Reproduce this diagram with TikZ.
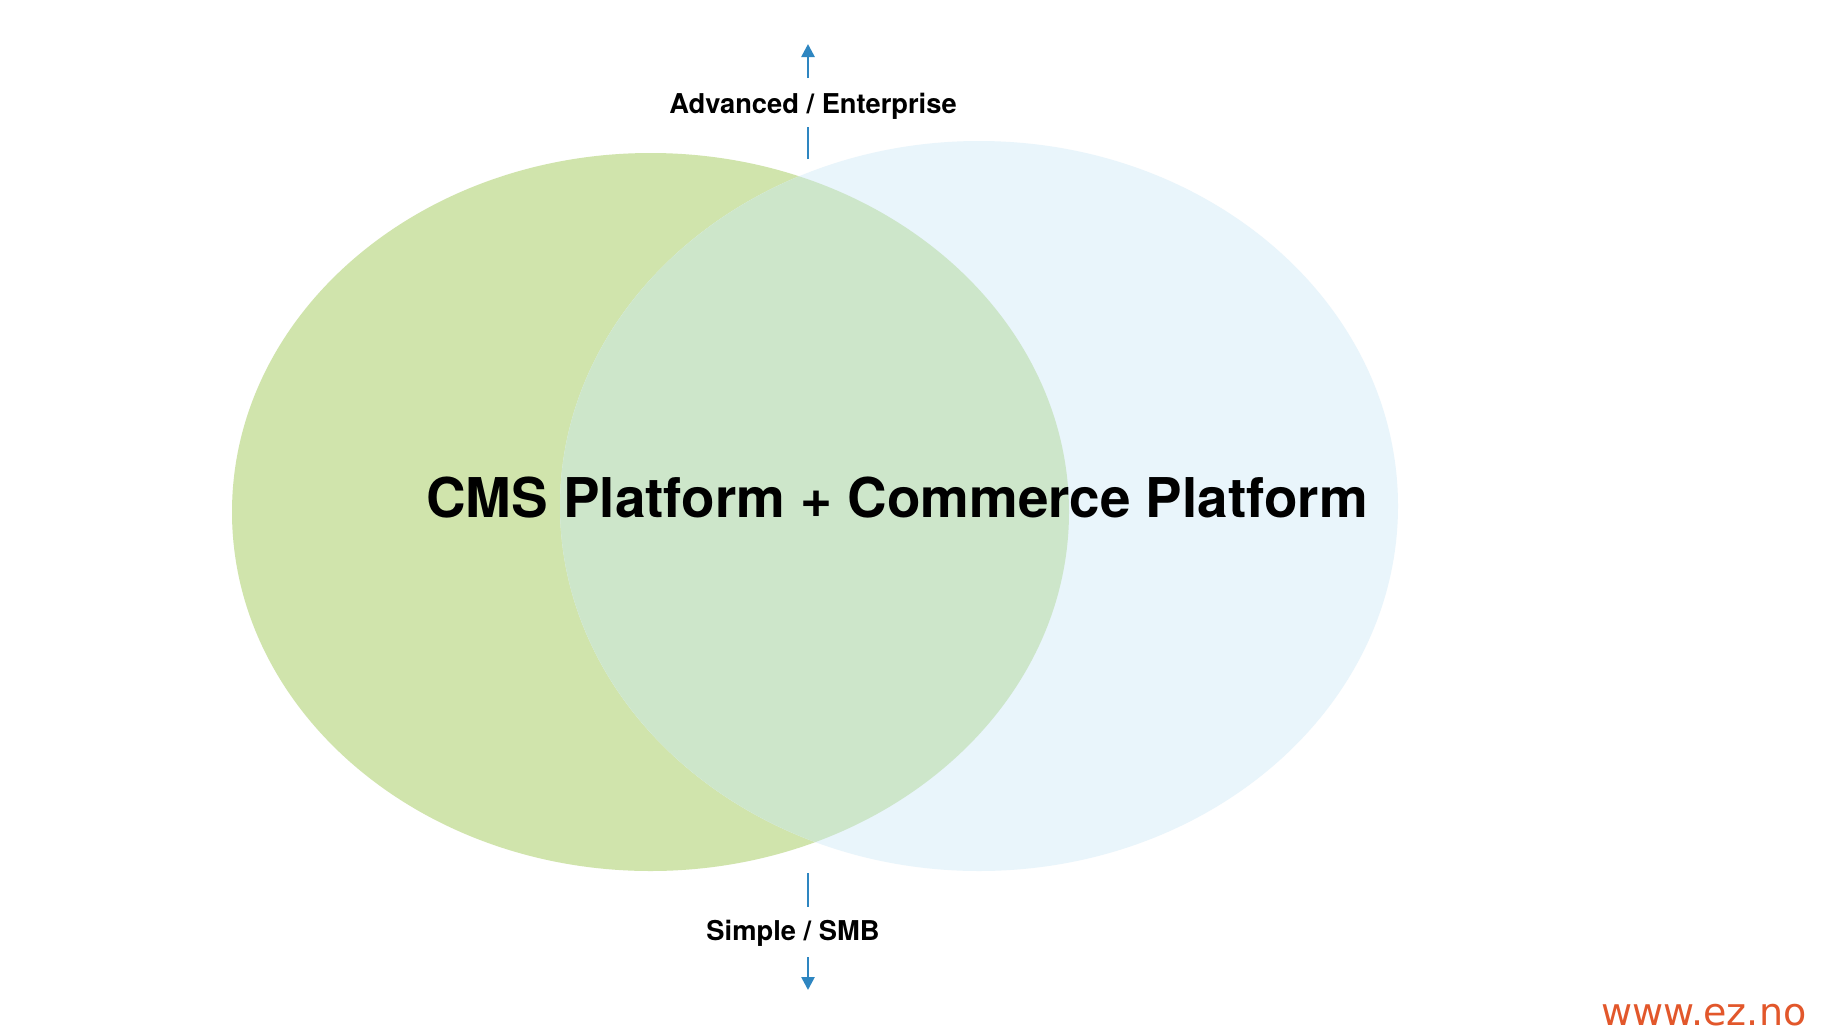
\documentclass[tikz,border=0pt]{standalone}
\usepackage{fontspec}
\setmainfont{TeX Gyre Heros}
\newfontfamily\wwwfont{DejaVu Sans}
\usetikzlibrary{arrows.meta}
\definecolor{cmsgreen}{HTML}{D0E4AC}
\definecolor{comblue}{HTML}{E9F5FB}
\definecolor{overlapc}{HTML}{CDE6CA}
\definecolor{axisblue}{HTML}{2E86C1}
\definecolor{ezorange}{HTML}{E2572B}
\begin{document}
\begin{tikzpicture}[x=1pt,y=-1pt,
  axisline/.style={draw=axisblue, line width=2.6pt},
  axisarrow/.style={axisline, -{Triangle[width=13pt,length=13pt]}},
  sidelabel/.style={font=\bfseries\fontsize{27.3}{27.3}\selectfont, inner sep=0pt, anchor=base},
  titlelabel/.style={font=\bfseries\fontsize{54.8}{54.8}\selectfont, inner sep=0pt, anchor=base}]
\useasboundingbox (0,0) rectangle (1836,1034);
\fill[white] (0,0) rectangle (1836,1034);
% ellipses
\fill[cmsgreen] (650.5,512) ellipse [x radius=418.5pt, y radius=359pt];
\fill[comblue] (979,506) ellipse [x radius=419pt, y radius=365pt];
\begin{scope}
  \clip (650.5,512) ellipse [x radius=418.5pt, y radius=359pt];
  \fill[overlapc] (979,506) ellipse [x radius=419pt, y radius=365pt];
\end{scope}
% labels
\node[titlelabel] (title) at (897,517) {CMS Platform + Commerce Platform};
\node[sidelabel] (adv) at (813,113) {Advanced / Enterprise};
\node[sidelabel] (smb) at (793,940) {Simple / SMB};
\node[font=\wwwfont\fontsize{38}{38}\selectfont, text=ezorange, inner sep=0pt, anchor=base] (www) at (1704,1025) {www.ez.no};
% axis
\coordinate (t1) at (808,159);
\coordinate (t2) at (808,127);
\coordinate (t3) at (808,78);
\coordinate (t4) at (808,44);
\coordinate (b1) at (808,873);
\coordinate (b2) at (808,907);
\coordinate (b3) at (808,957);
\coordinate (b4) at (808,990);
\draw[axisline] (t1) -- (t2);
\draw[axisarrow] (t3) -- (t4);
\draw[axisline] (b1) -- (b2);
\draw[axisarrow] (b3) -- (b4);
\end{tikzpicture}
\end{document}
